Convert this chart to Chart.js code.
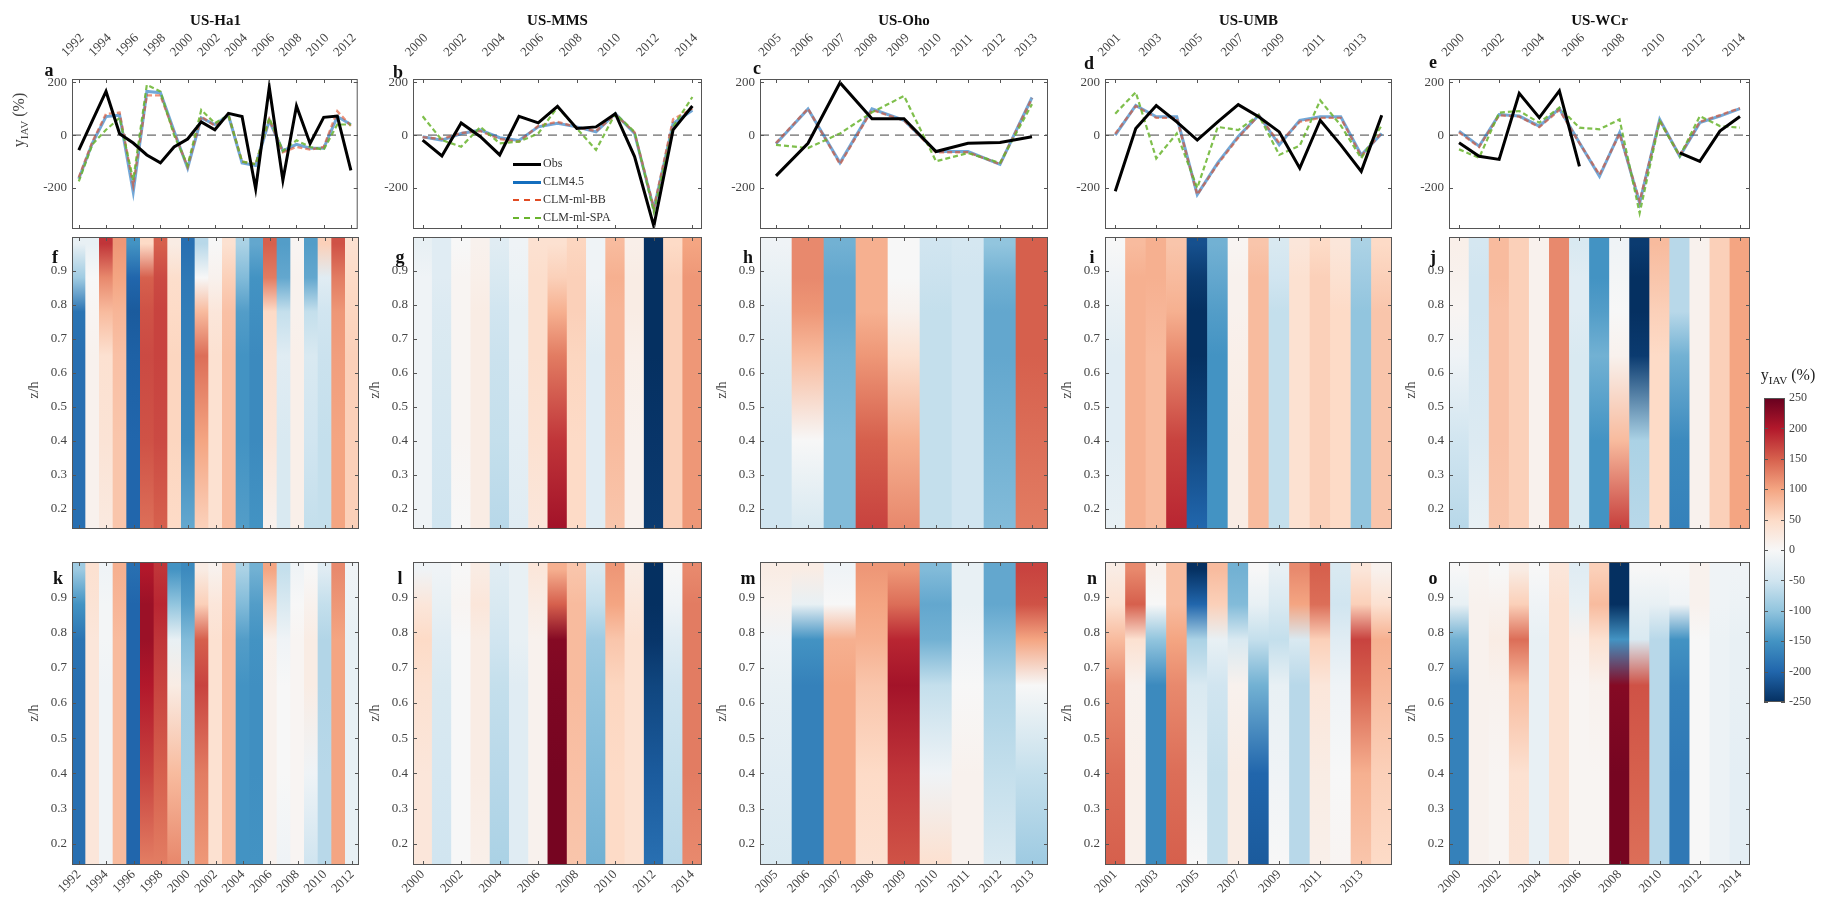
<!DOCTYPE html>
<html>
<head>
<meta charset="utf-8">
<title>yIAV by site</title>
<script src="https://cdn.jsdelivr.net/npm/chart.js@4.4.1/dist/chart.umd.min.js"></script>
<style>
  body { margin: 0; background: #fff; }
  #page { position: relative; width: 1836px; height: 906px; overflow: hidden; font-family: "Liberation Serif", "Times New Roman", serif; color: #222; }
  #page canvas { position: absolute; }
  .txt { position: absolute; white-space: nowrap; transform: translate(-50%, -50%); }
  .site { font-weight: bold; font-size: 15px; color: #111; }
  .letter { font-weight: bold; font-size: 18px; color: #111; }
  .ytitle { font-size: 14px; color: #444; transform: translate(-50%, -50%) rotate(-90deg); }
  .big { font-size: 16px; }
  .leg { position: absolute; font-size: 12px; color: #333; line-height: 18px; white-space: nowrap; }
  .leg span { display: inline-block; width: 28px; vertical-align: middle; margin-right: 2px; }
  sub { font-size: 70%; }
</style>
</head>
<body>
<div id="page"></div>
<script>
// ---- years and tick labels per site
const haYears = [1992, 1993, 1994, 1995, 1996, 1997, 1998, 1999, 2000, 2001, 2002, 2003, 2004, 2005, 2006, 2007, 2008, 2009, 2010, 2011, 2012];
const mmsYears = [2000, 2001, 2002, 2003, 2004, 2005, 2006, 2007, 2008, 2009, 2010, 2011, 2012, 2013, 2014];
const ohoYears = [2005, 2006, 2007, 2008, 2009, 2010, 2011, 2012, 2013];
const umbYears = [2001, 2002, 2003, 2004, 2005, 2006, 2007, 2008, 2009, 2010, 2011, 2012, 2013, 2014];
const wcrYears = [2000, 2001, 2002, 2003, 2004, 2005, 2006, 2007, 2008, 2009, 2010, 2011, 2012, 2013, 2014];

const haTicks = [1992, 1994, 1996, 1998, 2000, 2002, 2004, 2006, 2008, 2010, 2012];
const mmsTicks = [2000, 2002, 2004, 2006, 2008, 2010, 2012, 2014];
const ohoTicks = [2005, 2006, 2007, 2008, 2009, 2010, 2011, 2012, 2013];
const umbTicks = [2001, 2003, 2005, 2007, 2009, 2011, 2013];
const wcrTicks = [2000, 2002, 2004, 2006, 2008, 2010, 2012, 2014];

const yTicks = [-200, 0, 200];
const zTicks = [0.2, 0.3, 0.4, 0.5, 0.6, 0.7, 0.8, 0.9];
const cbTicks = [-250, -200, -150, -100, -50, 0, 50, 100, 150, 200, 250];

// ---- yIAV (%) time series, top row
const haObs = [-57, 55, 165, 5, -30, -75, -105, -45, -15, 50, 20, 82, 70, -203, 181, -171, 110, -32, 67, 72, -133];
const haClm = [-165, -30, 70, 75, -215, 165, 160, 15, -125, 65, 40, 75, -105, -115, 55, -60, -35, -50, -50, 70, 40];
const haBB = [-160, -25, 80, 85, -190, 150, 150, 10, -120, 70, 35, 75, -100, -110, 60, -65, -45, -55, -45, 90, 35];
const haSpa = [-175, -35, 20, 65, -170, 190, 165, 0, -115, 95, 45, 75, -100, -110, 65, -60, -20, -45, -55, 40, 40];

const mmsObs = [-19, -79, 46, -6, -75, 71, 46, 109, 25, 31, 81, -81, -344, 20, 110];
const mmsClm = [-6, -19, 6, 19, -10, -20, 31, 45, 31, 12, 81, 6, -280, 44, 94];
const mmsBB = [-8, -15, 8, 15, -15, -25, 35, 50, 30, 15, 78, 10, -275, 60, 100];
const mmsSpa = [71, -19, -44, 31, -31, -25, 6, 106, 25, -56, 81, 12, -290, 31, 144];

const ohoObs = [-154, -31, 198, 62, 62, -62, -31, -28, -6];
const ohoClm = [-33, 99, -105, 99, 56, -62, -62, -111, 142];
const ohoBB = [-30, 100, -110, 95, 55, -65, -65, -110, 140];
const ohoSpa = [-37, -49, 6, 86, 148, -99, -68, -105, 117];

const umbObs = [-212, 25, 112, 50, -19, 50, 115, 69, 12, -125, 56, -37, -137, 75];
const umbClm = [0, 112, 69, 69, -225, -105, -5, 75, -37, 56, 69, 69, -75, 6];
const umbBB = [5, 110, 65, 65, -225, -110, -10, 75, -30, 50, 65, 65, -80, 10];
const umbSpa = [81, 162, -88, 6, -200, 31, 19, 75, -75, -40, 131, 37, -88, 37];

const wcrObs = [-29, -80, -92, 158, 66, 167, -118, null, null, null, null, -67, -99, 15, 70];
const wcrClm = [15, -42, 78, 72, 34, 100, -29, -156, 9, -257, 59, -80, 47, 72, 100];
const wcrBB = [10, -45, 75, 70, 30, 95, -30, -150, 5, -250, 55, -78, 50, 75, 102];
const wcrSpa = [-54, -86, 85, 91, 47, 104, 28, 22, 59, -295, 53, -80, 72, 34, 28];

// ---- heat maps: yIAV (%) per year at z/h levels (bottom -> top)
const zLevels = [0.15, 0.4, 0.65, 0.78, 0.88, 0.98];
const zRange = [0.14, 1.0];

const haHeatF = [
  [-190, -190, -190, -185, -90, -20], [10, 10, 10, 5, 0, -20], [25, 35, 40, 80, 120, 180],
  [70, 70, 75, 85, 100, 110], [-200, -200, -205, -210, -200, -150], [140, 160, 165, 160, 150, 50],
  [150, 165, 170, 170, 165, 150], [50, 55, 55, 50, 45, 20], [-130, -160, -170, -175, -180, -190],
  [60, 100, 140, 80, 0, -70], [40, 40, 40, 30, 10, 0], [80, 80, 80, 75, 60, 40],
  [-140, -150, -150, -140, -110, -80], [-150, -160, -160, -155, -150, -130], [10, 30, 40, 50, 130, 150],
  [-40, -40, -30, -60, -130, -140], [15, 15, 15, 10, 10, 5], [-60, -50, -40, -60, -130, -140],
  [-60, -60, -55, -50, -30, 60], [100, 100, 105, 110, 130, 160], [60, 60, 60, 55, 50, 40]
];
const haHeatK = [
  [-190, -190, -190, -185, -150, -90], [30, 30, 30, 30, 35, 40], [-10, -10, -10, -5, -5, -10],
  [80, 80, 80, 80, 85, 90], [-200, -200, -200, -200, -200, -190], [130, 170, 200, 215, 215, 200],
  [130, 150, 170, 180, 190, 180], [120, 80, 20, -20, -100, -150], [-80, -85, -90, -110, -140, -160],
  [110, 130, 170, 150, 60, 20], [40, 40, 40, 40, 30, 10], [80, 80, 80, 80, 75, 70],
  [-150, -150, -150, -140, -110, -80], [-150, -155, -155, -150, -140, -120], [10, 10, 10, 15, 60, 100],
  [-10, 0, 0, -10, -40, -60], [5, 5, 5, 5, 0, -10], [-50, -10, 20, 20, 10, 0],
  [-70, -70, -75, -75, -60, -30], [100, 100, 100, 100, 110, 120], [-20, -20, -20, -20, -15, -10]
];

const mmsHeatG = [
  [-10, -10, -10, -10, -10, -20], [-50, -45, -40, -35, -30, -30], [0, 5, 5, 5, 5, 0],
  [20, 20, 20, 20, 15, 10], [-70, -60, -55, -50, -40, -30], [-30, -25, -20, -20, -15, -10],
  [30, 40, 45, 45, 45, 40], [210, 180, 130, 90, 60, 40], [50, 50, 55, 60, 60, 55],
  [-30, -30, -30, -20, -10, -10], [70, 80, 85, 85, 90, 80], [10, 10, 15, 20, 20, 15],
  [-240, -245, -250, -250, -250, -250], [60, 60, 60, 60, 60, 50], [110, 110, 110, 110, 110, 100]
];
const mmsHeatL = [
  [30, 30, 40, 50, 30, -10], [-50, -45, -40, -30, -20, -10], [0, 0, 0, 0, 5, 0],
  [15, 20, 20, 20, 30, 20], [-80, -70, -60, -50, -40, -30], [-30, -30, -30, -20, -20, -20],
  [10, 10, 10, 10, 20, 30], [240, 240, 235, 230, 150, 90], [70, 75, 80, 80, 80, 70],
  [-120, -110, -100, -90, -60, -40], [50, 50, 55, 70, 100, 110], [40, 40, 40, 40, 30, 20],
  [-190, -210, -230, -245, -250, -250], [-70, -60, -50, -30, -10, 0], [120, 130, 130, 130, 130, 120]
];

const ohoHeatH = [
  [-50, -50, -40, -30, -20, -10], [-40, 0, 80, 110, 120, 120], [-110, -110, -120, -130, -130, -120],
  [170, 150, 110, 90, 90, 90], [120, 90, 40, 10, 0, 0], [-60, -60, -60, -60, -55, -50],
  [-50, -50, -50, -50, -50, -45], [-110, -120, -130, -130, -120, -100], [130, 140, 150, 150, 150, 150]
];
const ohoHeatM = [
  [-40, -30, -20, -10, 10, 20], [-170, -170, -170, -150, -20, 20], [100, 100, 100, 90, 0, -10],
  [40, 50, 70, 90, 100, 110], [160, 180, 210, 190, 140, 110], [40, -10, -60, -120, -130, -110],
  [10, 10, 0, -10, -20, -20], [-40, -60, -80, -110, -130, -130], [-90, -60, 0, 100, 160, 170]
];

const umbHeatI = [
  [-20, -30, -30, -20, -10, 0], [90, 90, 90, 90, 90, 80], [80, 80, 80, 85, 90, 90],
  [190, 170, 120, 90, 80, 70], [-200, -230, -250, -250, -240, -220], [-150, -150, -150, -140, -130, -120],
  [20, 20, 15, 10, 10, 5], [80, 80, 80, 80, 80, 70], [-60, -60, -60, -60, -50, -40],
  [40, 40, 40, 40, 40, 30], [60, 60, 60, 60, 60, 50], [50, 50, 50, 50, 40, 30],
  [-100, -100, -100, -100, -90, -80], [70, 70, 70, 70, 60, 50]
];
const umbHeatN = [
  [150, 140, 120, 80, 40, 20], [15, 15, 10, 40, 150, 120], [-160, -160, -160, -100, 0, 10],
  [150, 140, 120, 100, 80, 80], [0, -20, -40, -80, -200, -250], [-60, -60, -50, -20, 60, 80],
  [20, 20, 10, -40, -110, -120], [-210, -200, -120, -60, -20, 0], [0, -10, -20, -60, -40, -20],
  [-70, -70, -70, -40, 100, 120], [15, 20, 30, 60, 140, 150], [5, 0, -10, -30, -50, -40],
  [70, 90, 150, 170, 60, 30], [50, 60, 80, 90, 40, 10]
];

const wcrHeatJ = [
  [-70, -50, -10, 5, 10, 15], [-20, -35, -45, -50, -50, -45], [70, 75, 75, 75, 80, 80],
  [60, 60, 60, 60, 60, 60], [10, 10, 10, 10, 10, 10], [120, 120, 120, 120, 120, 120],
  [-40, -40, -40, -30, -30, -40], [-150, -150, -120, -140, -150, -150], [170, 80, 10, 0, -5, -10],
  [-70, -80, -240, -250, -250, -240], [50, 50, 50, 60, 70, 80], [-170, -160, -120, -70, -70, -70],
  [10, 10, 10, 10, 10, 10], [60, 60, 60, 60, 60, 60], [100, 100, 100, 100, 100, 100]
];
const wcrHeatO = [
  [-170, -170, -170, -120, -20, 0], [10, 10, 10, 10, 10, 5], [5, 5, 10, 20, 10, 0],
  [35, 40, 80, 140, 60, 20], [-20, -20, -20, -20, -10, 0], [40, 40, 40, 40, 40, 30],
  [5, 5, 5, 10, -20, -30], [5, 5, 10, 40, 80, 60], [240, 240, 230, -150, -250, -250],
  [140, 150, 160, -40, -20, 0], [-70, -70, -70, -70, -20, 0], [-180, -180, -170, -150, -10, 0],
  [0, 0, 0, 0, 10, 10], [-15, -15, -15, -15, -10, -10], [-25, -25, -20, -20, -15, -10]
];

const seriesNames = ['Obs', 'CLM4.5', 'CLM-ml-BB', 'CLM-ml-SPA'];

// ---- drawing
const page = document.getElementById('page');
Chart.defaults.font.family = '"Liberation Serif", "Times New Roman", serif';
Chart.defaults.font.size = 13;
Chart.defaults.color = '#444';

const rdbu = ['#053061', '#2166ac', '#4393c3', '#92c5de', '#d1e5f0', '#f7f7f7',
              '#fddbc7', '#f4a582', '#d6604d', '#b2182b', '#67001f'];
function hexRgb(h) { return [1, 3, 5].map(k => parseInt(h.slice(k, k + 2), 16)); }
function heatColor(v) {
  const t = Math.max(0, Math.min(1, (v + 250) / 500)) * (rdbu.length - 1);
  const i = Math.min(Math.floor(t), rdbu.length - 2), f = t - i;
  const a = hexRgb(rdbu[i]), b = hexRgb(rdbu[i + 1]);
  const c = a.map((x, k) => Math.round(x + (b[k] - x) * f));
  return 'rgb(' + c.join(',') + ')';
}

// box round the plot area, with short inward ticks (matlab style)
const framePlugin = {
  id: 'frame',
  afterDatasetsDraw(chart, args, opts) {
    const { ctx, chartArea: a, scales } = chart;
    ctx.save();
    ctx.strokeStyle = '#555';
    ctx.lineWidth = 1;
    ctx.strokeRect(a.left + 0.5, a.top + 0.5, a.width - 1, a.height - 1);
    ctx.beginPath();
    if (opts.xTicks !== false && scales.x && scales.x.ticks) {
      scales.x.ticks.forEach(t => {
        const px = Math.round(scales.x.getPixelForValue(t.value)) + 0.5;
        ctx.moveTo(px, a.top); ctx.lineTo(px, a.top + 4);
        ctx.moveTo(px, a.bottom); ctx.lineTo(px, a.bottom - 4);
      });
    }
    scales.y.ticks.forEach(t => {
      const py = Math.round(scales.y.getPixelForValue(t.value)) + 0.5;
      ctx.moveTo(a.left, py); ctx.lineTo(a.left + 4, py);
      ctx.moveTo(a.right, py); ctx.lineTo(a.right - 4, py);
    });
    ctx.stroke();
    ctx.restore();
  }
};

function makeCanvas(left, top, w, h) {
  const c = document.createElement('canvas');
  c.width = w; c.height = h;
  c.style.left = left + 'px'; c.style.top = top + 'px';
  c.style.width = w + 'px'; c.style.height = h + 'px';
  page.appendChild(c);
  return c;
}

function addText(cls, html, x, y) {
  const d = document.createElement('div');
  d.className = 'txt ' + cls;
  d.innerHTML = html;
  d.style.left = x + 'px'; d.style.top = y + 'px';
  page.appendChild(d);
}

function xScale(years, ticks, pos, show, h) {
  return {
    type: 'linear', position: pos, display: show, offset: false,
    min: years[0] - 0.5, max: years[years.length - 1] + 0.5,
    afterBuildTicks: s => { s.ticks = ticks.map(v => ({ value: v })); },
    afterFit: s => { s.height = h; },
    grid: { display: false, drawTicks: false }, border: { display: false },
    ticks: {
      autoSkip: false, minRotation: 45, maxRotation: 45,
      padding: pos === 'top' ? 19 : 2, labelOffset: pos === 'top' ? -4 : 0,
      callback: v => String(v)
    }
  };
}

function yScale(min, max, ticks, fmt) {
  return {
    type: 'linear', min: min, max: max,
    afterBuildTicks: s => { s.ticks = ticks.map(v => ({ value: v })); },
    afterFit: s => { s.width = 60; },
    grid: { display: false, drawTicks: false }, border: { display: false },
    ticks: { autoSkip: false, padding: 5, callback: fmt }
  };
}

const baseOpts = {
  responsive: false, animation: false, devicePixelRatio: 1,
  events: []
};

function lineChart(col) {
  const cv = makeCanvas(col.l - 60, 0, col.r - col.l + 90, 229 + 14);
  const pts = arr => col.years.map((y, i) => ({ x: y, y: arr[i] }));
  const x0 = col.years[0] - 0.5, x1 = col.years[col.years.length - 1] + 0.5;
  new Chart(cv, {
    type: 'line',
    data: {
      datasets: [
        { label: seriesNames[0], data: pts(col.obs), borderColor: '#000', borderWidth: 3 },
        { label: seriesNames[3], data: pts(col.spa), borderColor: 'rgba(105,180,45,0.85)', borderWidth: 2.2, borderDash: [5, 3] },
        { label: seriesNames[2], data: pts(col.bb), borderColor: 'rgba(225,75,35,0.6)', borderWidth: 2.4, borderDash: [5, 3] },
        { label: seriesNames[1], data: pts(col.clm), borderColor: 'rgba(20,110,190,0.6)', borderWidth: 3 },
        { label: 'zero', data: [{ x: x0, y: 0 }, { x: x1, y: 0 }], borderColor: '#444', borderWidth: 1, borderDash: [9, 6] }
      ]
    },
    options: Object.assign({}, baseOpts, {
      layout: { padding: { left: 0, right: 30, top: 0, bottom: 14 } },
      elements: { point: { radius: 0 }, line: { tension: 0 } },
      spanGaps: false,
      scales: {
        x: xScale(col.years, col.ticks, 'top', true, 79),
        y: yScale(-355, 212, yTicks, v => String(v))
      },
      plugins: { legend: { display: false }, tooltip: { enabled: false }, frame: {} }
    }),
    plugins: [framePlugin]
  });
}

function heatFill(rows) {
  return c => {
    const chart = c.chart, vals = rows[c.dataIndex];
    if (!chart.chartArea || !vals) return heatColor(0);
    const ys = chart.scales.y;
    const zb = zLevels[0], zt = zLevels[zLevels.length - 1];
    const g = chart.ctx.createLinearGradient(0, ys.getPixelForValue(zb), 0, ys.getPixelForValue(zt));
    zLevels.forEach((z, i) => g.addColorStop((z - zb) / (zt - zb), heatColor(vals[i])));
    return g;
  };
}

function heatChart(col, rows, top, bottom, withAxis) {
  const mt = 14, mb = withAxis ? 906 - bottom : 14;
  const cv = makeCanvas(col.l - 60, top - mt, col.r - col.l + 90, bottom - top + mt + mb);
  new Chart(cv, {
    type: 'bar',
    data: {
      datasets: [{
        data: col.years.map(y => ({ x: y, y: [zRange[0], zRange[1]] })),
        backgroundColor: heatFill(rows),
        borderWidth: 0, barPercentage: 1, categoryPercentage: 1
      }]
    },
    options: Object.assign({}, baseOpts, {
      layout: { padding: { left: 0, right: 30, top: mt, bottom: withAxis ? 0 : mb } },
      scales: {
        x: xScale(col.years, col.ticks, 'bottom', withAxis, mb),
        y: yScale(zRange[0], zRange[1], zTicks, v => v.toFixed(1))
      },
      plugins: { legend: { display: false }, tooltip: { enabled: false }, frame: {} }
    }),
    plugins: [framePlugin]
  });
}

function colorbar() {
  const cv = makeCanvas(1764, 386, 21 + 50, 304 + 24);
  new Chart(cv, {
    type: 'bar',
    data: {
      labels: ['yIAV'],
      datasets: [{
        data: [[cbTicks[0], cbTicks[cbTicks.length - 1]]],
        backgroundColor: c => {
          const chart = c.chart;
          if (!chart.chartArea) return heatColor(0);
          const ys = chart.scales.y;
          const lo = cbTicks[0], hi = cbTicks[cbTicks.length - 1];
          const g = chart.ctx.createLinearGradient(0, ys.getPixelForValue(lo), 0, ys.getPixelForValue(hi));
          cbTicks.forEach(v => g.addColorStop((v - lo) / (hi - lo), heatColor(v)));
          return g;
        },
        borderWidth: 0, barPercentage: 1, categoryPercentage: 1
      }]
    },
    options: Object.assign({}, baseOpts, {
      layout: { padding: { left: 0, right: 0, top: 12, bottom: 12 } },
      scales: {
        x: { display: false },
        y: {
          type: 'linear', position: 'right', min: -250, max: 250,
          afterBuildTicks: s => { s.ticks = cbTicks.map(v => ({ value: v })); },
          afterFit: s => { s.width = 50; },
          grid: { display: false, drawTicks: false }, border: { display: false },
          ticks: { autoSkip: false, padding: 4, font: { size: 12 }, callback: v => String(v) }
        }
      },
      plugins: { legend: { display: false }, tooltip: { enabled: false }, frame: { xTicks: false } }
    }),
    plugins: [framePlugin]
  });
}

const cols = [
  { site: 'US-Ha1', years: haYears, ticks: haTicks, obs: haObs, clm: haClm, bb: haBB, spa: haSpa, mid: haHeatF, low: haHeatK, l: 72, r: 359, letters: ['a', 'f', 'k'], lx: [49, 55, 58], ly: [70, 257, 578] },
  { site: 'US-MMS', years: mmsYears, ticks: mmsTicks, obs: mmsObs, clm: mmsClm, bb: mmsBB, spa: mmsSpa, mid: mmsHeatG, low: mmsHeatL, l: 413, r: 702, letters: ['b', 'g', 'l'], lx: [398, 400, 400], ly: [72, 257, 578] },
  { site: 'US-Oho', years: ohoYears, ticks: ohoTicks, obs: ohoObs, clm: ohoClm, bb: ohoBB, spa: ohoSpa, mid: ohoHeatH, low: ohoHeatM, l: 760, r: 1048, letters: ['c', 'h', 'm'], lx: [757, 748, 748], ly: [68, 257, 578] },
  { site: 'US-UMB', years: umbYears, ticks: umbTicks, obs: umbObs, clm: umbClm, bb: umbBB, spa: umbSpa, mid: umbHeatI, low: umbHeatN, l: 1105, r: 1392, letters: ['d', 'i', 'n'], lx: [1089, 1092, 1092], ly: [63, 257, 578] },
  { site: 'US-WCr', years: wcrYears, ticks: wcrTicks, obs: wcrObs, clm: wcrClm, bb: wcrBB, spa: wcrSpa, mid: wcrHeatJ, low: wcrHeatO, l: 1449, r: 1750, letters: ['e', 'j', 'o'], lx: [1433, 1433, 1433], ly: [62, 257, 578] }
];

cols.forEach(col => {
  lineChart(col);
  heatChart(col, col.mid, 237, 543, false);
  heatChart(col, col.low, 562, 865, true);
  addText('site', col.site, (col.l + col.r) / 2, 20);
  col.letters.forEach((t, i) => addText('letter', t, col.lx[i], col.ly[i]));
  addText('ytitle', 'z/h', col.l - 38, 390);
  addText('ytitle', 'z/h', col.l - 38, 713);
});
colorbar();

addText('ytitle big', 'y<sub>IAV</sub> (%)', 20, 120);
addText('', 'y<sub>IAV</sub> (%)', 1788, 376);

// legend inside panel b
const legStyles = [
  'border-top:3px solid #000',
  'border-top:3px solid rgb(20,110,190)',
  'border-top:2px dashed rgb(225,75,35)',
  'border-top:2px dashed rgb(105,180,45)'
];
const leg = document.createElement('div');
leg.className = 'leg';
leg.style.left = '513px'; leg.style.top = '154px';
leg.innerHTML = seriesNames.map((n, i) => '<div><span style="' + legStyles[i] + '"></span>' + n + '</div>').join('');
page.appendChild(leg);
</script>
</body>
</html>
